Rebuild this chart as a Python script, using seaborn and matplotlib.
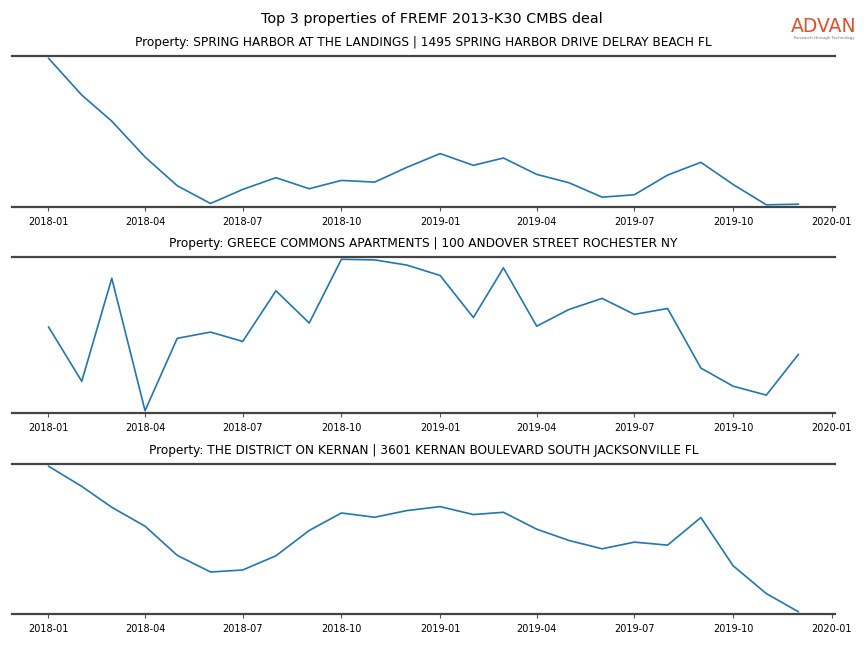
import numpy as np
import pandas as pd
import matplotlib
matplotlib.use("Agg")
import matplotlib.pyplot as plt
import matplotlib.dates as mdates
import seaborn as sns

months = pd.date_range("2018-01-01", "2019-12-01", freq="MS")

titles = [
    "Property: SPRING HARBOR AT THE LANDINGS | 1495 SPRING HARBOR DRIVE DELRAY BEACH FL",
    "Property: GREECE COMMONS APARTMENTS | 100 ANDOVER STREET ROCHESTER NY",
    "Property: THE DISTRICT ON KERNAN | 3601 KERNAN BOULEVARD SOUTH JACKSONVILLE FL",
]

spring_harbor = [1477, 1110, 850, 493, 207, 30, 170, 287, 177, 260, 243, 390,
                 527, 410, 483, 320, 237, 93, 117, 313, 440, 220, 17, 23]
greece_commons = [853, 330, 1320, 47, 743, 803, 713, 1200, 890, 1503, 1497, 1447,
                  1347, 943, 1420, 860, 1020, 1127, 973, 1030, 457, 283, 197, 590]
district_kernan = [1473, 1270, 1060, 870, 577, 410, 430, 573, 827, 1003, 960, 1027,
                   1067, 987, 1010, 840, 727, 643, 710, 680, 957, 473, 193, 10]

series = [spring_harbor, greece_commons, district_kernan]

sns.set_style("white")
plt.rcParams["text.color"] = "black"
plt.rcParams["axes.labelcolor"] = "black"
plt.rcParams["xtick.color"] = "black"
fig = plt.figure(figsize=(8.64, 6.48), dpi=100)

W, H = 864, 648
boxes = [(56, 207), (257, 413), (464, 614)]
left, right = 12, 835

for (top, bot), title, vals in zip(boxes, titles, series):
    ax = fig.add_axes([left / W, 1 - bot / H, (right - left) / W, (bot - top) / H])
    df = pd.DataFrame({"date": months, "value": vals})
    sns.lineplot(data=df, x="date", y="value", ax=ax, color="#1f77b4", linewidth=1.2)
    ax.margins(y=0.015)
    ax.set_xlim(pd.Timestamp("2017-11-28"), pd.Timestamp("2020-01-04"))
    ax.set_title(title, fontsize=8.7, pad=7.5, color="black")
    ax.set_xlabel("")
    ax.set_ylabel("")
    ax.set_yticks([])
    ax.xaxis.set_major_locator(mdates.MonthLocator(bymonth=[1, 4, 7, 10]))
    ax.xaxis.set_major_formatter(mdates.DateFormatter("%Y-%m"))
    ax.tick_params(axis="x", labelsize=7, length=3, width=0.8, color="#555555", pad=4,
                   bottom=True, labelcolor="black")
    for s in ["left", "right"]:
        ax.spines[s].set_visible(False)
    for s in ["top", "bottom"]:
        ax.spines[s].set_visible(True)
        ax.spines[s].set_color("#444444")
        ax.spines[s].set_linewidth(1.6)

fig.suptitle("Top 3 properties of FREMF 2013-K30 CMBS deal", fontsize=10.4, y=1 - 19 / H,
             va="center", color="black")

fig.text(824 / W, 1 - 27 / H, "ADVAN", color="#E0502A", fontsize=13.5, ha="center", va="center",
         fontweight="medium")
fig.text(824 / W, 1 - 38 / H, "Research through Technology", color="#777777", fontsize=3,
         ha="center", va="center")

fig.savefig("out.png", dpi=100)
